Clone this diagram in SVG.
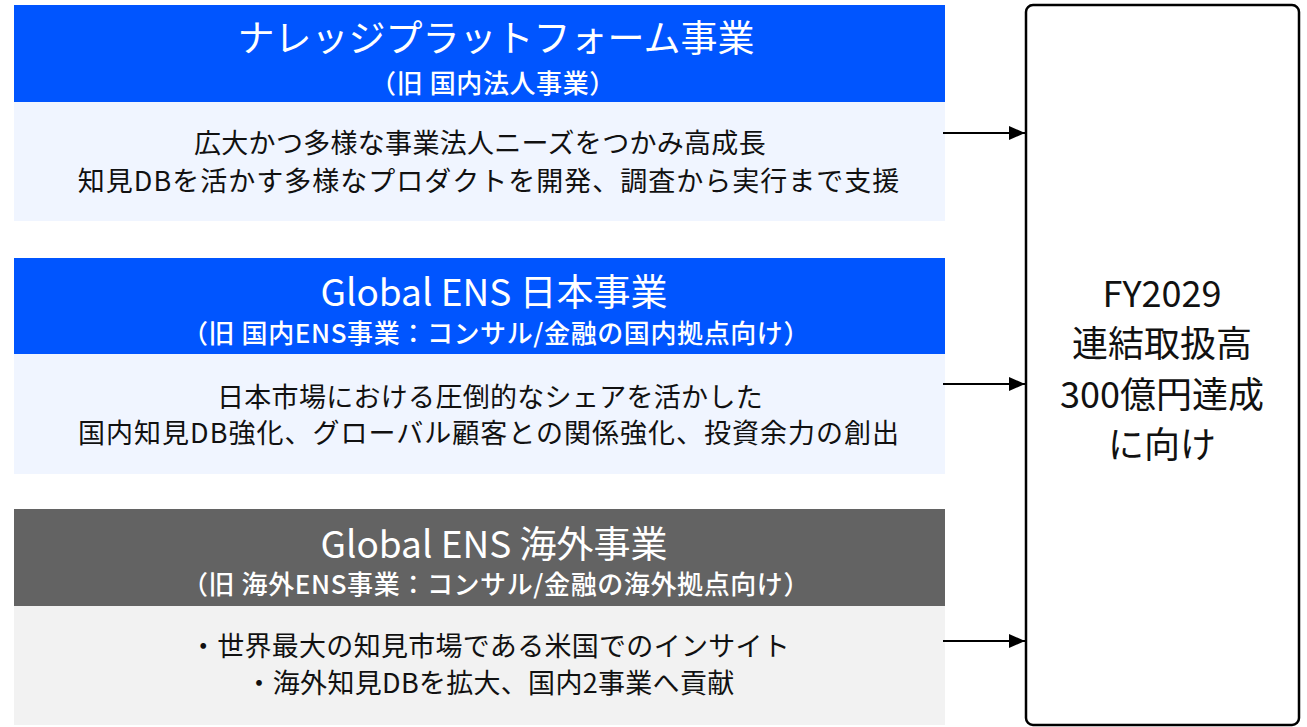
<svg xmlns="http://www.w3.org/2000/svg" width="1307" height="727" viewBox="0 0 1307 727">
<defs>
<style>
text{font-family:"Noto Sans CJK JP","Noto Sans",sans-serif;text-anchor:middle}
.hd-blue{fill:#0055FF}
.hd-gray{fill:#636363}
.bd-blue{fill:#F0F5FF}
.bd-gray{fill:#F2F2F2}
.title{fill:#FFFFFF;font-size:37px}
.sub{fill:#FFFFFF;font-size:26px;font-weight:500;letter-spacing:0.6px}
.body{fill:#111111;font-size:27px;letter-spacing:0.3px}
.wide{letter-spacing:1px}
.goal{fill:#111111;font-size:36px}
.conn{stroke:#000;stroke-width:2;fill:none}
</style>
<marker id="arr" markerWidth="16" markerHeight="14" refX="16" refY="7" orient="auto" markerUnits="userSpaceOnUse">
<path d="M0,0 L16,7 L0,14 Z" fill="#000"/>
</marker>
</defs>
<rect width="1307" height="727" fill="#FFFFFF"/>

<g id="node-knowledge">
<rect class="bd-blue" x="14" y="102" width="931" height="119"/>
<rect class="hd-blue" x="14" y="5" width="931" height="97"/>
<text class="title" x="496" y="52">ナレッジプラットフォーム事業</text>
<text class="sub" x="493" y="93">（旧 国内法人事業）</text>
<text class="body" x="480" y="153">広大かつ多様な事業法人ニーズをつかみ高成長</text>
<text class="body wide" x="489" y="191">知見DBを活かす多様なプロダクトを開発、調査から実行まで支援</text>
</g>

<g id="node-global-japan">
<rect class="bd-blue" x="14" y="354" width="931" height="120"/>
<rect class="hd-blue" x="14" y="258" width="931" height="96"/>
<text class="title" x="494" y="306">Global ENS 日本事業</text>
<text class="sub" x="496" y="343">（旧 国内ENS事業：コンサル/金融の国内拠点向け）</text>
<text class="body" x="490" y="407">日本市場における圧倒的なシェアを活かした</text>
<text class="body wide" x="489" y="443">国内知見DB強化、グローバル顧客との関係強化、投資余力の創出</text>
</g>

<g id="node-global-overseas">
<rect class="bd-gray" x="14" y="606" width="931" height="119"/>
<rect class="hd-gray" x="14" y="509" width="931" height="97"/>
<text class="title" x="494" y="558">Global ENS 海外事業</text>
<text class="sub" x="496" y="594">（旧 海外ENS事業：コンサル/金融の海外拠点向け）</text>
<text class="body" x="490" y="656">・世界最大の知見市場である米国でのインサイト</text>
<text class="body" x="490" y="693">・海外知見DBを拡大、国内2事業へ貢献</text>
</g>

<g id="node-goal">
<rect x="1026" y="5" width="273" height="720" rx="7" fill="#FFFFFF" stroke="#000" stroke-width="2.5"/>
<text class="goal" x="1162" y="307">FY2029</text>
<text class="goal" x="1162" y="357">連結取扱高</text>
<text class="goal" x="1162" y="408">300億円達成</text>
<text class="goal" x="1162" y="458">に向け</text>
</g>

<g id="connectors">
<line class="conn" x1="943" y1="133" x2="1025" y2="133" marker-end="url(#arr)"/>
<line class="conn" x1="943" y1="384" x2="1025" y2="384" marker-end="url(#arr)"/>
<line class="conn" x1="943" y1="641" x2="1025" y2="641" marker-end="url(#arr)"/>
</g>
</svg>
